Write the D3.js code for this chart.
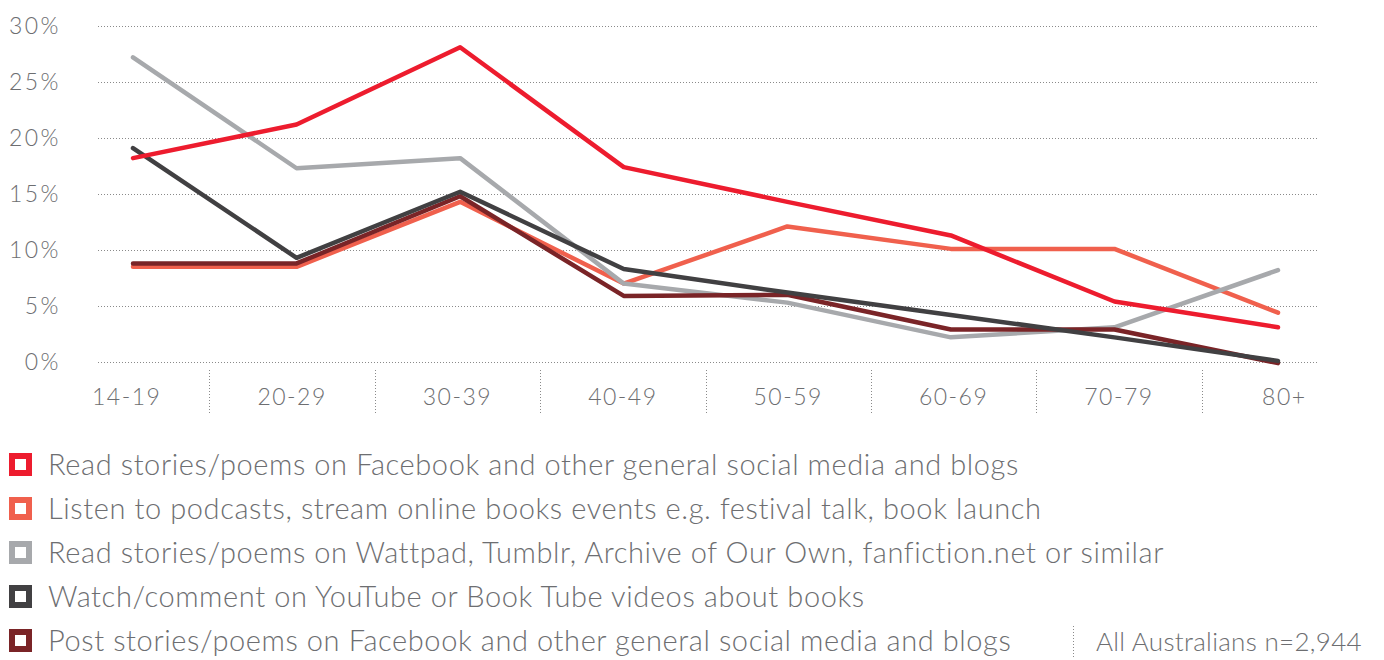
<!DOCTYPE html>
<html>
<head>
<meta charset="utf-8">
<script src="https://cdn.jsdelivr.net/npm/d3@7"></script>
<style>
  body { margin: 0; background: #fff; }
  text { font-family: Lato, "Open Sans", sans-serif; font-weight: 300; fill: #6d6e71; }
</style>
</head>
<body>
<svg id="chart" width="1384" height="660"></svg>
<script>
// age groups along the x axis
var ageGroups = ["14-19", "20-29", "30-39", "40-49", "50-59", "60-69", "70-79", "80+"];

// percentage values per series
var readFacebook = [18.2, 21.2, 28.1, 17.4, 14.3, 11.3, 5.4, 3.1];
var podcasts     = [8.5, 8.5, 14.3, 7.0, 12.1, 10.1, 10.1, 4.4];
var wattpad      = [27.2, 17.3, 18.2, 7.0, 5.3, 2.2, 3.1, 8.2];
var youtube      = [19.1, 9.3, 15.2, 8.3, 6.2, 4.2, 2.2, 0.1];
var postFacebook = [8.8, 8.8, 14.8, 5.9, 6.0, 2.9, 2.9, -0.1];

var yTicks = [0, 5, 10, 15, 20, 25, 30];

var seriesNames = [
  "Read stories/poems on Facebook and other general social media and blogs",
  "Listen to podcasts, stream online books events e.g. festival talk, book launch",
  "Read stories/poems on Wattpad, Tumblr, Archive of Our Own, fanfiction.net or similar",
  "Watch/comment on YouTube or Book Tube videos about books",
  "Post stories/poems on Facebook and other general social media and blogs"
];
var seriesColors = ["#ed1c2e", "#f0604d", "#a7a9ac", "#414042", "#7a2427"];
var seriesValues = [readFacebook, podcasts, wattpad, youtube, postFacebook];

var note = "All Australians n=2,944";

var series = seriesNames.map(function(name, i) {
  return { name: name, color: seriesColors[i], values: seriesValues[i] };
});

var svg = d3.select("#chart");

var x = d3.scalePoint().domain(ageGroups).range([133, 1278]);
var xBand = d3.scaleBand().domain(ageGroups).range([44, 1367]);
var y = d3.scaleLinear().domain([0, 30]).range([362, 26]);

// horizontal dotted gridlines
svg.append("g").selectAll("line")
  .data(yTicks)
  .enter().append("line")
  .attr("x1", 98).attr("x2", 1318)
  .attr("y1", function(d) { return y(d) + 0.5; })
  .attr("y2", function(d) { return y(d) + 0.5; })
  .attr("stroke", "#8a8a8a")
  .attr("stroke-width", 1)
  .attr("stroke-dasharray", "1,2");

// y tick labels
svg.append("g").selectAll("text")
  .data(yTicks)
  .enter().append("text")
  .attr("x", 61)
  .attr("y", function(d) { return y(d); })
  .attr("dy", "0.35em")
  .attr("text-anchor", "end")
  .style("font-size", "23px")
  .style("letter-spacing", "2.5px")
  .text(function(d) { return d + "%"; });

// x labels + dotted dividers between bands
svg.append("g").selectAll("text")
  .data(ageGroups)
  .enter().append("text")
  .attr("x", function(d) { return xBand(d) + xBand.bandwidth() / 2; })
  .attr("y", 405)
  .attr("text-anchor", "middle")
  .style("font-size", "23px")
  .style("letter-spacing", "1.5px")
  .text(function(d) { return d; });

svg.append("g").selectAll("line")
  .data(ageGroups.slice(1))
  .enter().append("line")
  .attr("x1", function(d) { return Math.round(xBand(d)) + 0.5; })
  .attr("x2", function(d) { return Math.round(xBand(d)) + 0.5; })
  .attr("y1", 370).attr("y2", 415)
  .attr("stroke", "#8a8a8a")
  .attr("stroke-dasharray", "1,2");

// lines
var line = d3.line()
  .x(function(d, i) { return x(ageGroups[i]); })
  .y(function(d) { return y(d); });

var drawOrder = [1, 2, 4, 3, 0];
svg.append("g").selectAll("path")
  .data(drawOrder.map(function(i) { return series[i]; }))
  .enter().append("path")
  .attr("d", function(d) { return line(d.values); })
  .attr("fill", "none")
  .attr("stroke", function(d) { return d.color; })
  .attr("stroke-width", 4.5)
  .attr("stroke-linejoin", "round")
  .attr("stroke-linecap", "round");

// legend
var legend = svg.append("g").selectAll("g")
  .data(series)
  .enter().append("g")
  .attr("transform", function(d, i) { return "translate(0," + (465 + i * 44) + ")"; });

legend.append("rect")
  .attr("x", 12).attr("y", -9)
  .attr("width", 17).attr("height", 17)
  .attr("fill", "#fff")
  .attr("stroke", function(d) { return d.color; })
  .attr("stroke-width", 6);

legend.append("text")
  .attr("x", 48)
  .attr("y", 0)
  .attr("dy", "0.36em")
  .style("font-size", "29px")
  .style("letter-spacing", "0.6px")
  .text(function(d) { return d.name; });

// sample note
svg.append("line")
  .attr("x1", 1073.5).attr("x2", 1073.5)
  .attr("y1", 626).attr("y2", 658)
  .attr("stroke", "#8a8a8a")
  .attr("stroke-dasharray", "1,2");

svg.append("text")
  .attr("x", 1096)
  .attr("y", 651)
  .style("font-size", "26px")
  .style("letter-spacing", "0.3px")
  .text(note);
</script>
</body>
</html>
